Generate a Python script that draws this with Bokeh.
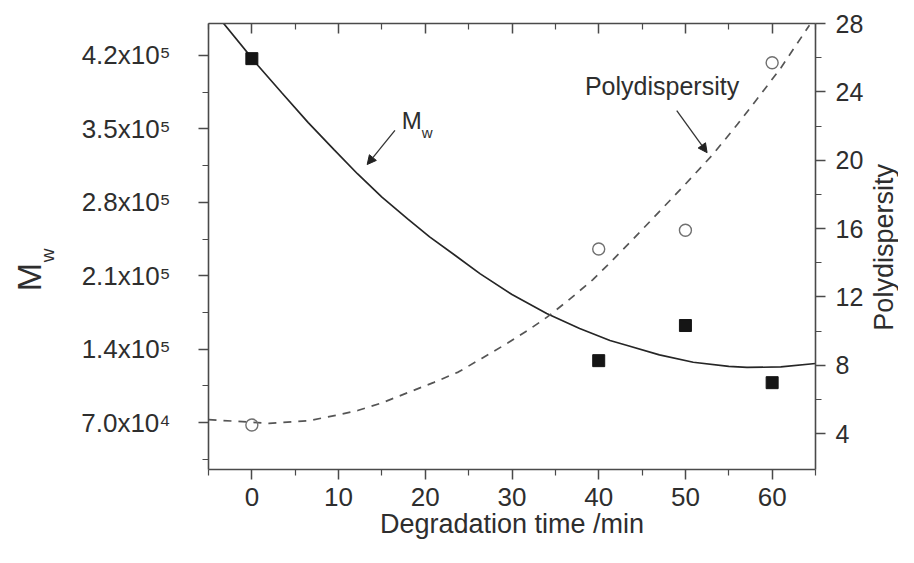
import math
from bokeh.plotting import figure
from bokeh.layouts import row
from bokeh.models import Range1d, LinearAxis, FixedTicker, Label, Arrow, NormalHead
from bokeh.core.properties import value
from bokeh.embed import file_html
from bokeh.resources import INLINE

# ---- data ----
time_min = [0, 40, 50, 60]
mw_values = [417000, 129000, 162500, 108000]
pd_values = [4.5, 14.8, 15.9, 25.7]

mw_fit_time = [-3.3, 0.7, 3.5, 6.5, 9.5, 12.2, 15.0, 18.0, 20.5, 23.5, 26.3, 30.0, 34.0,
               37.8, 41.3, 43.3, 47.0, 50.9, 55.0, 57.1, 61.0, 65.0]
mw_fit_values = [451000, 410500, 384000, 356000, 330000, 307000, 285000, 264000, 247000,
                 229000, 212000, 192000, 174000, 159600, 148200, 143400, 134500, 127500,
                 123500, 122500, 123000, 126300]

pd_fit_time = [-5.0, 2.0, 6.5, 10.0, 12.2, 15.0, 18.0, 21.0, 23.8, 26.5, 29.5, 32.0, 34.0,
               36.5, 39.3, 41.3, 44.0, 47.1, 50.0, 53.1, 56.0, 58.6, 61.0, 64.3]
pd_fit_values = [4.82, 4.6, 4.75, 5.1, 5.35, 5.8, 6.4, 7.0, 7.6, 8.4, 9.3, 10.1, 10.8,
                 11.8, 13.0, 14.0, 15.4, 17.05, 18.6, 20.3, 22.1, 23.8, 25.4, 27.9]

x_ticks = [0, 10, 20, 30, 40, 50, 60]
x_minor = [-5, 5, 15, 25, 35, 45, 55, 65]
mw_ticks = [70000, 140000, 210000, 280000, 350000, 420000]
mw_tick_labels = ["7.0x10\u2074", "1.4x10\u2075", "2.1x10\u2075", "2.8x10\u2075",
                  "3.5x10\u2075", "4.2x10\u2075"]
mw_minor = [35000, 105000, 175000, 245000, 315000, 385000]
pd_ticks = [4, 8, 12, 16, 20, 24, 28]
pd_minor = [6, 10, 14, 18, 22, 26]

FONT = "Liberation Sans"
AX = "#4a4a4a"
TXT = "#2e2e2e"
H = 547
W_LEFT, W_MAIN, W_RIGHT = 60, 806, 32
B_TOP, B_BOTTOM = 23, 78

mw_range = Range1d(25200, 450500)
pd_range = Range1d(1.9, 28)

p = figure(width=W_MAIN, height=H, x_range=Range1d(-5, 65), y_range=mw_range,
           output_backend="svg", toolbar_location=None,
           min_border_left=148, min_border_right=51, min_border_top=B_TOP,
           min_border_bottom=B_BOTTOM)
p.extra_y_ranges = {"pd": pd_range}
p.xgrid.visible = False
p.ygrid.visible = False
p.outline_line_color = None


def style(ax, ticks, minor, inward=False):
    ax.ticker = FixedTicker(ticks=ticks, minor_ticks=minor)
    ax.axis_line_color = AX
    ax.axis_line_width = 1.6
    ax.major_tick_line_color = AX
    ax.major_tick_line_width = 1.5
    ax.minor_tick_line_color = AX
    ax.minor_tick_line_width = 1.2
    if inward:
        ax.major_tick_in = 10
        ax.major_tick_out = 0
        ax.minor_tick_in = 6
        ax.minor_tick_out = 0
    else:
        ax.major_tick_in = 0
        ax.major_tick_out = 10
        ax.minor_tick_in = 0
        ax.minor_tick_out = 6
    ax.major_label_text_font = FONT
    ax.major_label_text_font_size = "26px"
    ax.major_label_text_color = TXT


xb = p.xaxis[0]
style(xb, x_ticks, x_minor)
xb.major_label_standoff = 8
xb.axis_label = "Degradation time /min"
xb.axis_label_text_font = FONT
xb.axis_label_text_font_size = "27px"
xb.axis_label_text_font_style = "normal"
xb.axis_label_text_color = TXT
xb.axis_label_standoff = 0

yl = p.yaxis[0]
style(yl, mw_ticks, mw_minor)
yl.major_label_standoff = 28
yl.major_label_overrides = {t: s for t, s in zip(mw_ticks, mw_tick_labels)}

yr = LinearAxis(y_range_name="pd")
style(yr, pd_ticks, pd_minor)
yr.major_label_text_font_size = "25px"
yr.major_label_standoff = 10
p.add_layout(yr, "right")

# mirrored top axis: ticks only, pointing inwards, no labels
xt = LinearAxis()
style(xt, x_ticks, x_minor, inward=True)
xt.major_label_text_font_size = "0px"
xt.major_label_text_color = None
xt.major_label_standoff = 0
p.add_layout(xt, "above")

# fitted curves
p.line(mw_fit_time, mw_fit_values, line_color="#262626", line_width=1.7)
p.line(pd_fit_time, pd_fit_values, y_range_name="pd", line_color="#555555",
       line_width=1.7, line_dash="8 7")

# data points
p.scatter(time_min, mw_values, marker="square", size=12, fill_color="#151515",
          line_color="#151515")
p.scatter(time_min, pd_values, marker="circle", size=12, fill_color=None,
          line_color="#707070", line_width=1.4, y_range_name="pd")

# annotations
p.add_layout(Arrow(end=NormalHead(size=9, fill_color="#222222", line_color="#222222"),
                   x_start=16.5, y_start=348500, x_end=13.3, y_end=316000,
                   line_color="#333333", line_width=1.3))
p.add_layout(Arrow(end=NormalHead(size=9, fill_color="#222222", line_color="#222222"),
                   x_start=49.0, y_start=22.9, x_end=52.5, y_end=20.44, y_range_name="pd",
                   line_color="#333333", line_width=1.3))

p.add_layout(Label(x=47.3, y=24.36, y_range_name="pd", text="Polydispersity",
                   text_align="center", text_baseline="middle", text_font=FONT,
                   text_font_size="25px", text_color=TXT))
p.add_layout(Label(x=17.3, y=358000, text="M", text_align="left", text_baseline="alphabetic",
                   text_font=FONT, text_font_size="24px", text_color=TXT))
p.add_layout(Label(x=19.6, y=346600, text="w", text_align="left", text_baseline="alphabetic",
                   text_font=FONT, text_font_size="15px", text_color=TXT))


def strip(width, yrange):
    s = figure(width=width, height=H, x_range=Range1d(0, width), y_range=yrange,
               output_backend="svg", toolbar_location=None,
               min_border_left=0, min_border_right=0,
               min_border_top=B_TOP, min_border_bottom=B_BOTTOM,
               x_axis_location=None, y_axis_location=None)
    s.grid.visible = False
    s.outline_line_color = None
    return s


# left axis title  M_w  (reads bottom-to-top), y given in M_w units
left = strip(W_LEFT, mw_range)
left.text(x=[28], y=[208800], text=["M"], angle=math.pi / 2, text_align="center",
          text_baseline="middle", text_font=value(FONT), text_font_size=value("34px"),
          text_color=TXT)
left.text(x=[46.5], y=[229300], text=["w"], angle=math.pi / 2, text_align="center",
          text_baseline="middle", text_font=value(FONT), text_font_size=value("19px"),
          text_color=TXT)

# right axis title, y given in polydispersity units
right = strip(W_RIGHT, pd_range)
right.text(x=[17.5], y=[14.9], text=["Polydispersity"], angle=math.pi / 2,
           text_align="center", text_baseline="middle", text_font=value(FONT),
           text_font_size=value("27px"), text_color=TXT)

layout = row(left, p, right, spacing=0)
open("out.html", "w").write(file_html(layout, INLINE))
